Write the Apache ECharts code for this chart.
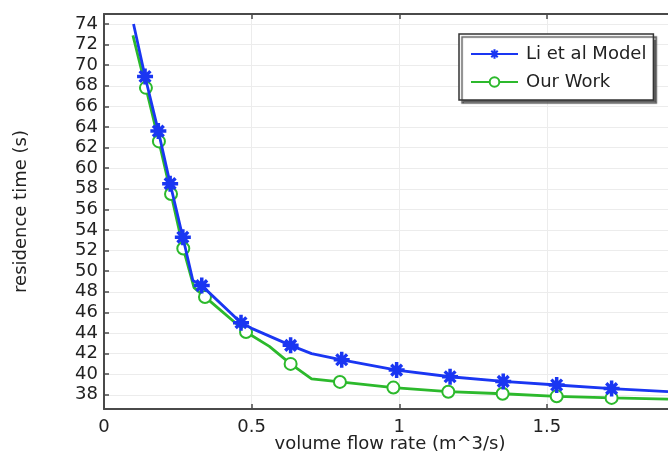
<!DOCTYPE html>
<html>
<head>
<meta charset="utf-8">
<script src="https://cdn.jsdelivr.net/npm/echarts@6/dist/echarts.min.js"></script>
<style>html,body{margin:0;padding:0;background:#fff;}#c{width:668px;height:452px;}</style>
</head>
<body>
<div id="c"></div>
<script>
// ---- data ----
var liX      = [0.100, 0.139, 0.184, 0.224, 0.267, 0.301, 0.331, 0.464, 0.500, 0.632, 0.703, 0.805, 0.991, 1.172, 1.352, 1.533, 1.719, 1.910];
var liY      = [74.0, 68.9, 63.6, 58.5, 53.3, 49.1, 48.6, 45.0, 44.45, 42.8, 42.0, 41.4, 40.4, 39.75, 39.3, 38.95, 38.6, 38.3];
var liMarked = [0, 1, 1, 1, 1, 0, 1, 1, 0, 1, 0, 1, 1, 1, 1, 1, 1, 0];

var ourX      = [0.098, 0.142, 0.186, 0.227, 0.2685, 0.305, 0.342, 0.481, 0.560, 0.632, 0.703, 0.799, 0.980, 1.166, 1.350, 1.533, 1.719, 1.910];
var ourY      = [72.9, 67.8, 62.6, 57.5, 52.2, 48.4, 47.5, 44.1, 42.7, 41.0, 39.55, 39.25, 38.7, 38.3, 38.1, 37.85, 37.7, 37.57];
var ourMarked = [0, 1, 1, 1, 1, 0, 1, 1, 0, 1, 0, 1, 1, 1, 1, 1, 1, 0];

var seriesNames = ['Li et al Model', 'Our Work'];
var xTicks = [0, 0.5, 1, 1.5];
var yTicks = [38, 40, 42, 44, 46, 48, 50, 52, 54, 56, 58, 60, 62, 64, 66, 68, 70, 72, 74];
var xTitle = 'volume flow rate (m^3/s)';
var yTitle = 'residence time (s)';

// ---- build ----
function build(xs, ys, marks) {
  return xs.map(function (x, i) {
    var d = { value: [x, ys[i]] };
    if (!marks[i]) d.symbol = 'none';
    return d;
  });
}
var asterisk = 'path://M0,3.9 L10,3.9 L10,6.1 L0,6.1 Z M3.9,0 L6.1,0 L6.1,10 L3.9,10 Z ' +
  'M0.9,2.4 L2.4,0.9 L9.1,7.6 L7.6,9.1 Z M7.6,0.9 L9.1,2.4 L2.4,9.1 L0.9,7.6 Z';
var BLUE = '#1a36f2', GREEN = '#2cb92c';
var FONT = 'DejaVu Sans';
var axisColor = '#4a4a4a';

var chart = echarts.init(document.getElementById('c'), null, { renderer: 'canvas' });
chart.setOption({
  animation: false,
  backgroundColor: '#fff',
  textStyle: { fontFamily: FONT },
  grid: { left: 104, top: 14, right: 0, bottom: 43, containLabel: false, outerBoundsMode: 'none' },
  legend: {
    data: seriesNames,
    orient: 'vertical',
    left: 459, top: 34,
    padding: [11, 7, 9, 11],
    itemWidth: 47, itemHeight: 12, itemGap: 10,
    backgroundColor: '#fff',
    borderColor: '#333', borderWidth: 1.5, borderRadius: 0,
    shadowColor: 'rgba(70,70,70,0.85)', shadowBlur: 1, shadowOffsetX: 3, shadowOffsetY: 3,
    textStyle: { fontFamily: FONT, fontSize: 18, color: '#222', padding: [0, 0, 0, 3] }
  },
  xAxis: [{
    type: 'value', min: 0, max: 1.91, interval: 0.5,
    name: xTitle, nameLocation: 'middle', nameGap: 26, nameMoveOverlap: false,
    nameTextStyle: { fontFamily: FONT, fontSize: 18, color: '#222', padding: [0, 0, 0, 8] },
    axisLine: { show: true, lineStyle: { color: axisColor, width: 2 } },
    axisTick: { show: true, inside: true, length: 5, lineStyle: { color: axisColor, width: 1.5 }, customValues: xTicks },
    axisLabel: { fontFamily: FONT, fontSize: 18, color: '#222', margin: 9, customValues: xTicks,
      formatter: function (v) { return String(v); } },
    splitLine: { show: true, lineStyle: { color: '#ececec', width: 1 } }
  }, {
    type: 'value', position: 'top', min: 0, max: 1.91, interval: 0.5,
    axisLine: { show: true, lineStyle: { color: axisColor, width: 2 } },
    axisTick: { show: true, inside: true, length: 5, lineStyle: { color: axisColor, width: 1.5 }, customValues: xTicks },
    axisLabel: { show: false },
    splitLine: { show: false }
  }],
  yAxis: [{
    type: 'value', min: 36.62, max: 74.97, interval: 2,
    name: yTitle, nameLocation: 'middle', nameGap: 74, nameMoveOverlap: false,
    nameTextStyle: { fontFamily: FONT, fontSize: 18, color: '#222' },
    axisLine: { show: true, lineStyle: { color: axisColor, width: 2 } },
    axisTick: { show: true, inside: true, length: 5, lineStyle: { color: axisColor, width: 1.5 }, customValues: yTicks },
    axisLabel: { fontFamily: FONT, fontSize: 18, color: '#222', margin: 6, customValues: yTicks },
    splitLine: { show: true, lineStyle: { color: '#ececec', width: 1 } }
  }],
  series: [{
    name: seriesNames[1], type: 'line',
    data: build(ourX, ourY, ourMarked),
    symbol: 'emptyCircle', symbolSize: 12, showAllSymbol: true,
    lineStyle: { color: GREEN, width: 2.8 },
    itemStyle: { color: GREEN, borderColor: GREEN, borderWidth: 2.2 },
    z: 2
  }, {
    name: seriesNames[0], type: 'line',
    data: build(liX, liY, liMarked),
    symbol: asterisk, symbolSize: 16, showAllSymbol: true,
    lineStyle: { color: BLUE, width: 2.8 },
    itemStyle: { color: BLUE, borderWidth: 0 },
    z: 3
  }]
});
</script>
</body>
</html>
